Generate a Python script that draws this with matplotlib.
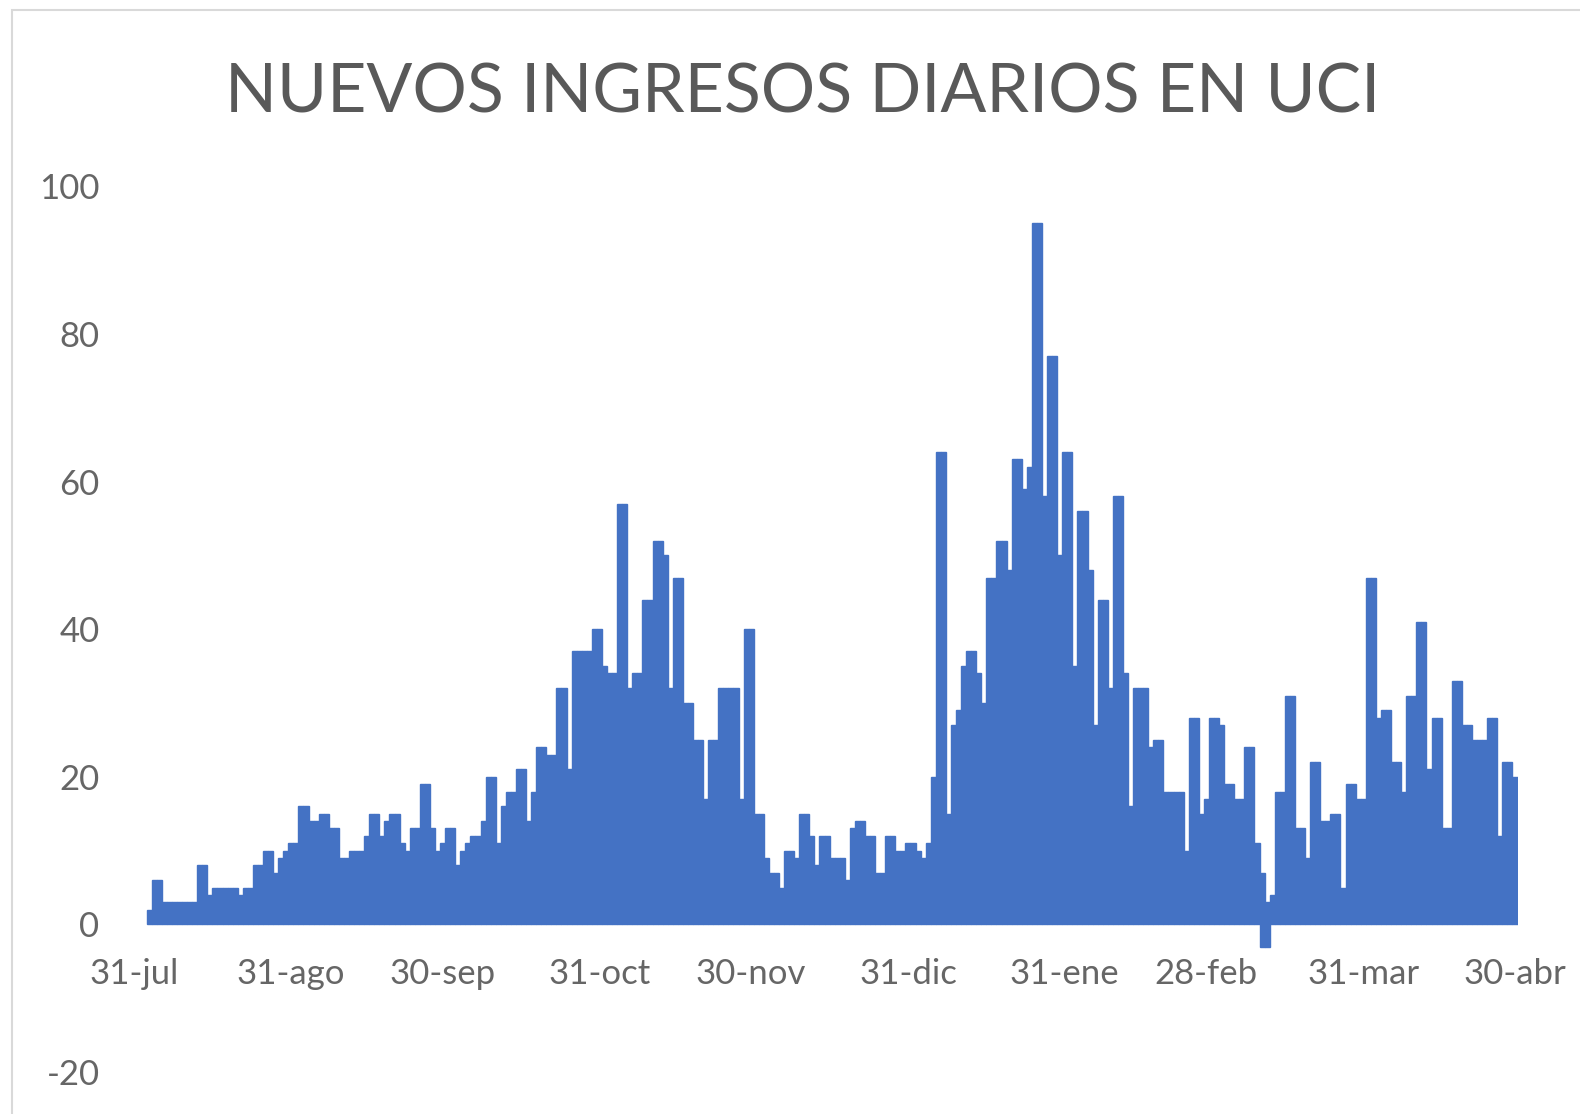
"""Nuevos ingresos diarios en UCI - column chart recreated with matplotlib."""

import numpy as np
import matplotlib
matplotlib.use("Agg")
import matplotlib.pyplot as plt
import matplotlib.dates as mdates
from matplotlib.patches import Rectangle

# daily values, one list per month (first data day: 3-ago-2020)
ago = [2, 6, 6, 3, 3, 3, 3, 3, 3, 3, 8, 8, 4, 5, 5, 5, 5, 5, 4, 5, 5, 8, 8,
       10, 10, 7, 9, 10, 11]
sep = [11, 16, 16, 14, 14, 15, 15, 13, 13, 9, 9, 10, 10, 10, 12, 15, 15, 12,
       14, 15, 15, 11, 10, 13, 13, 19, 19, 13, 10, 11]
oct_ = [13, 13, 8, 10, 11, 12, 12, 14, 20, 20, 11, 16, 18, 18, 21, 21, 14, 18,
        24, 24, 23, 23, 32, 32, 21, 37, 37, 37, 37, 40, 40]
nov = [35, 34, 34, 57, 57, 32, 34, 34, 44, 44, 52, 52, 50, 32, 47, 47, 30, 30,
       25, 25, 17, 25, 25, 32, 32, 32, 32, 17, 40, 40]
dic = [15, 15, 9, 7, 7, 5, 10, 10, 9, 15, 15, 12, 8, 12, 12, 9, 9, 9, 6, 13,
       14, 14, 12, 12, 7, 7, 12, 12, 10, 10, 11]
ene = [11, 10, 9, 11, 20, 64, 64, 15, 27, 29, 35, 37, 37, 34, 30, 47, 47, 52,
       52, 48, 63, 63, 59, 62, 95, 95, 58, 77, 77, 50, 64]
feb = [64, 35, 56, 56, 48, 27, 44, 44, 32, 58, 58, 34, 16, 32, 32, 32, 24, 25,
       25, 18, 18, 18, 18, 10, 28, 28, 15, 17]
mar = [28, 28, 27, 19, 19, 17, 17, 24, 24, 11, 7, 3, 4, 18, 18, 31, 31, 13,
       13, 9, 22, 22, 14, 14, 15, 15, 5, 19, 19, 17, 17]
abr = [47, 47, 28, 29, 29, 22, 22, 18, 31, 31, 41, 41, 21, 28, 28, 13, 13, 33,
       33, 27, 27, 25, 25, 25, 28, 28, 12, 22, 22, 20]

# negative correction entries (same dates as two of the daily values)
fechas_correccion = ["2021-03-11", "2021-03-12"]
valores_correccion = [-3, -3]

tick_fechas = ["2020-07-31", "2020-08-31", "2020-09-30", "2020-10-31",
               "2020-11-30", "2020-12-31", "2021-01-31", "2021-02-28",
               "2021-03-31", "2021-04-30"]
tick_labels = ["31-jul", "31-ago", "30-sep", "31-oct", "30-nov", "31-dic",
               "31-ene", "28-feb", "31-mar", "30-abr"]

TITLE = "NUEVOS INGRESOS DIARIOS EN UCI"
BAR_COLOR = "#4472C4"
TEXT_COLOR = "#595959"
TICK_COLOR = "#666666"
FONT = ["Lato", "DejaVu Sans"]

W, H = 1580, 1114


def main():
    plt.rcParams["axes.unicode_minus"] = False
    valores = ago + sep + oct_ + nov + dic + ene + feb + mar + abr
    fechas = np.datetime64("2020-08-03") + np.arange(len(valores))

    fig = plt.figure(figsize=(W / 100, H / 100), dpi=100)
    fig.patch.set_facecolor("white")

    left, right = 131.5, 1517.5
    top, bottom = 186.4, 1072
    ax = fig.add_axes([left / W, (H - bottom) / H, (right - left) / W,
                       (bottom - top) / H])

    ax.bar(fechas, valores, width=1.0, color=BAR_COLOR,
           edgecolor=BAR_COLOR, linewidth=1.0)
    ax.bar(np.array(fechas_correccion, dtype="datetime64[D]"),
           valores_correccion, width=1.0, color=BAR_COLOR,
           edgecolor=BAR_COLOR, linewidth=1.0)

    x0 = mdates.date2num(np.datetime64("2020-07-31")) - 0.5
    x1 = mdates.date2num(np.datetime64("2021-04-30")) + 0.5
    ax.set_xlim(x0, x1)
    ax.set_ylim(-20, 100)
    ax.set_yticks(range(-20, 101, 20))

    ax.set_xticks(mdates.date2num(np.array(tick_fechas, dtype="datetime64[D]")))
    ax.set_xticklabels(tick_labels)

    for s in ["top", "right", "left"]:
        ax.spines[s].set_visible(False)
    ax.spines["bottom"].set_position(("data", 0))
    ax.spines["bottom"].set_visible(False)

    ax.tick_params(axis="both", length=0, colors=TICK_COLOR, labelsize=25)
    ax.tick_params(axis="x", pad=24)
    ax.tick_params(axis="y", pad=23)
    for lab in ax.get_xticklabels() + ax.get_yticklabels():
        lab.set_family(FONT)

    fig.text(803 / W, 1 - 93 / H, TITLE, ha="center", va="center",
             fontsize=49, color=TEXT_COLOR, family=FONT)

    # chart frame, only left and top edges fall inside the picture
    fig.add_artist(Rectangle((12 / W, -0.1), 1.2, (H - 10) / H + 0.1,
                             transform=fig.transFigure, fill=False,
                             edgecolor="#d9d9d9", linewidth=1.5))

    fig.savefig("out.png", dpi=100, facecolor="white")
    plt.close(fig)


if __name__ == "__main__":
    main()
